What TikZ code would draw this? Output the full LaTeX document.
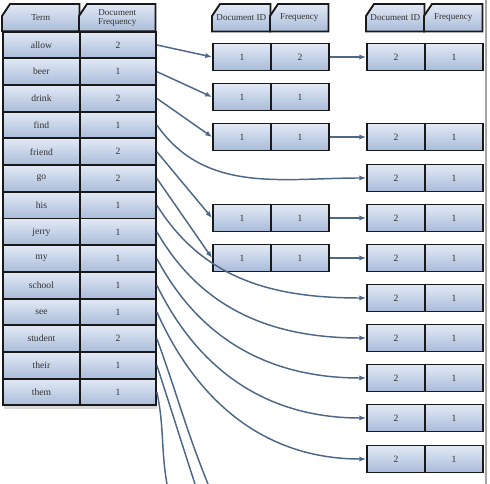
\documentclass[tikz,border=0pt]{standalone}
\usepackage{fontspec}
\setmainfont{Liberation Serif}
\usetikzlibrary{arrows.meta}
\pgfdeclarelayer{background}
\pgfsetlayers{background,main}
\definecolor{cellA}{HTML}{E2E9F5}
\definecolor{cellB}{HTML}{A9BCD9}
\definecolor{linkc}{HTML}{4D6787}
\definecolor{txt}{HTML}{333333}
\tikzset{
  cell/.style={draw=black!90, line width=1.4pt, top color=cellA, bottom color=cellB,
    anchor=north west, inner sep=0pt, minimum height=20pt, text=txt,
    font=\fontsize{7.2}{8}\selectfont},
  hdr/.style={anchor=north west, inner sep=0pt, minimum height=20pt, text=txt,
    align=center, font=\fontsize{6.8}{6.8}\selectfont},
  hdrfill/.style={draw=black!90, line width=1.4pt, top color=cellA, bottom color=cellB},
  lt/.style={minimum width=57.75pt},
  lf/.style={minimum width=57pt},
  mw/.style={minimum width=43.5pt, minimum height=20.25pt},
  link/.style={draw=linkc, line width=1.1pt, -{Latex[length=5pt,width=4pt]}},
  linkn/.style={draw=linkc, line width=1.1pt},
}
\begin{document}
\begin{tikzpicture}[x=0.75pt,y=-0.75pt]
\useasboundingbox (0,0) rectangle (490,484);
\draw[gray!70, line width=0.8pt] (486,0) -- (486,484);
% left table
\node[hdr,lt] (th) at (2,4) {Term};
\node[hdr,lf] (fh) at (79,4) {Document\\Frequency};
\foreach \w/\n [count=\i] in {allow/2,beer/1,drink/2,find/1,friend/2,go/2,his/1,jerry/1,my/1,school/1,see/1,student/2,their/1,them/1}{
  \node[cell,lt] (t\i) at (2,{4+26.7*\i}) {\w};
  \node[cell,lf] (f\i) at (79,{4+26.7*\i}) {\n};
}
% middle lists
\node[hdr,mw] (mh1) at (212,4) {Document ID};
\node[hdr,mw] (mh2) at (270,4) {Frequency};
\foreach \y/\a/\b [count=\i] in {57/1/2,97/1/1,137/1/1,218/1/1,258/1/1}{
  \node[cell,mw,anchor=west] (ma\i) at (212,\y) {\a};
  \node[cell,mw,anchor=west] (mb\i) at (270,\y) {\b};
}
% right lists
\node[hdr,mw] (rh1) at (366,4) {Document ID};
\node[hdr,mw] (rh2) at (424,4) {Frequency};
\foreach \y [count=\i] in {57,137,178,218,258,298,338,378,418,459}{
  \node[cell,mw,anchor=west] (ra\i) at (366,\y) {2};
  \node[cell,mw,anchor=west] (rb\i) at (424,\y) {1};
}
% header shapes with cut corner
\begin{pgfonlayer}{background}
\foreach \h in {th,fh,mh1,mh2,rh1,rh2}
  \path[hdrfill] (\h.south west) -- ([yshift=-9pt]\h.north west) -- ([xshift=6pt]\h.north west)
     -- (\h.north east) -- (\h.south east) -- cycle;
\fill[gray!30] (4,406) rectangle (157,409);
\end{pgfonlayer}
% connectors: term to first posting
\draw[link] (f1.east) -- (ma1.west);
\draw[link] (f2.east) -- (ma2.west);
\draw[link] (f3.east) -- (ma3.west);
\draw[link] (f5.east) -- (ma4.west);
\draw[link] (f6.east) -- (ma5.west);
\draw[link] (f4.east) to[out=-55,in=180] (ra3.west);
\draw[link] (f7.east) to[out=-58,in=180] (ra6.west);
\draw[link] (f8.east) to[out=-60,in=180] (ra7.west);
\draw[link] (f9.east) to[out=-62,in=180] (ra8.west);
\draw[link] (f10.east) to[out=-64,in=180] (ra9.west);
\draw[link] (f11.east) to[out=-66,in=180] (ra10.west);
\coordinate (e1) at (208,484);
\coordinate (e2) at (195,484);
\coordinate (e3) at (167,484);
\draw[linkn] (f12.east) to[out=-70,in=112] (e1);
\draw[linkn] (f13.east) to[out=-72,in=108] (e2);
\draw[linkn] (f14.east) to[out=-78,in=100] (e3);
% posting to next posting
\draw[link] (mb1.east) -- (ra1.west);
\draw[link] (mb3.east) -- (ra2.west);
\draw[link] (mb4.east) -- (ra4.west);
\draw[link] (mb5.east) -- (ra5.west);
\end{tikzpicture}
\end{document}
